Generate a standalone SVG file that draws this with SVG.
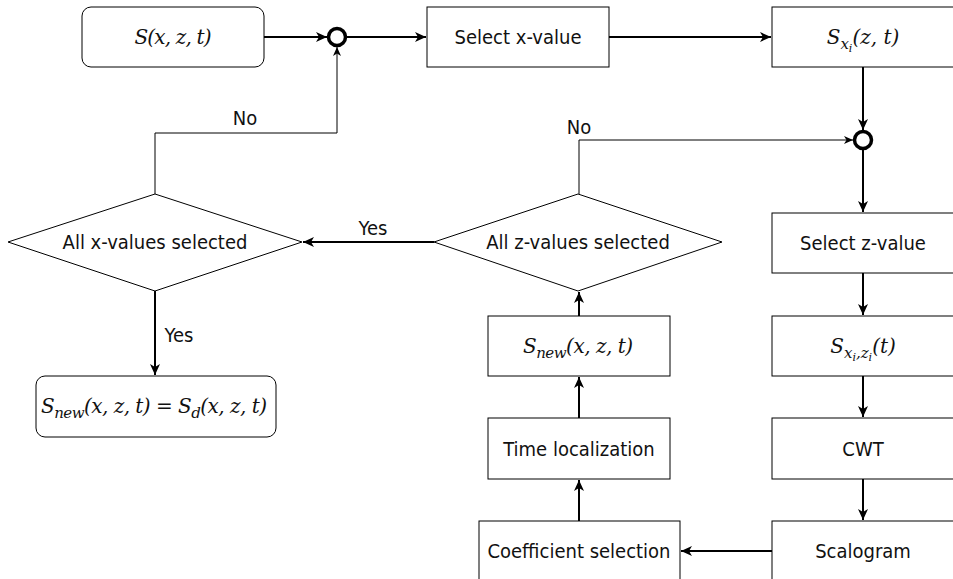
<svg xmlns="http://www.w3.org/2000/svg" width="953" height="579" viewBox="0 0 953 579">
<style>
.box{fill:#fff;stroke:#000;stroke-width:1}
.t{font-family:"DejaVu Sans Condensed","DejaVu Sans",Verdana,sans-serif;font-stretch:condensed;font-size:20px;fill:#111;text-anchor:middle}
.m{font-family:"DejaVu Serif","Liberation Serif",serif;font-style:italic;font-size:20px;fill:#111;text-anchor:middle}
.thick{fill:none;stroke:#000;stroke-width:2}
.thin{fill:none;stroke:#000;stroke-width:1}
.junc{fill:#fff;stroke:#000;stroke-width:3.5}
</style>
<defs>
<marker id="ah" markerUnits="userSpaceOnUse" markerWidth="12" markerHeight="10" refX="11" refY="5" orient="auto">
<path d="M0,0 L11,5 L0,10 L3,5 Z" fill="#000"/>
</marker>
<marker id="ahs" markerUnits="userSpaceOnUse" markerWidth="10" markerHeight="8" refX="9" refY="4" orient="auto">
<path d="M0,0 L9,4 L0,8 L2.5,4 Z" fill="#000"/>
</marker>
</defs>
<rect width="953" height="579" fill="#fff"/>

<g id="connectors">
<path class="thick" d="M264,37 L327,37" marker-end="url(#ah)"/>
<path class="thick" d="M347,37 L426,37" marker-end="url(#ah)"/>
<path class="thick" d="M609,37 L771,37" marker-end="url(#ah)"/>
<path class="thick" d="M863,67 L863,130" marker-end="url(#ah)"/>
<path class="thick" d="M863,150 L863,212" marker-end="url(#ah)"/>
<path class="thick" d="M863,273 L863,315" marker-end="url(#ah)"/>
<path class="thick" d="M863,376 L863,417" marker-end="url(#ah)"/>
<path class="thick" d="M863,479 L863,520" marker-end="url(#ah)"/>
<path class="thick" d="M772,551 L681,551" marker-end="url(#ah)"/>
<path class="thick" d="M579,521 L579,480" marker-end="url(#ah)"/>
<path class="thick" d="M579,418 L579,377" marker-end="url(#ah)"/>
<path class="thick" d="M579,316 L579,292" marker-end="url(#ah)"/>
<path class="thick" d="M434,242 L303,242" marker-end="url(#ah)"/>
<path class="thin" d="M579,194 L579,140 L853,140" marker-end="url(#ahs)"/>
<path class="thin" d="M155,194 L155,133 L337,133 L337,47" marker-end="url(#ahs)"/>
<path class="thick" d="M155,291 L155,375" marker-end="url(#ah)"/>
<text class="t" x="245" y="125">No</text>
<text class="t" x="579" y="134">No</text>
<text class="t" x="373" y="235">Yes</text>
<text class="t" x="179" y="342">Yes</text>
</g>

<g id="start">
<rect class="box" x="82" y="7" width="182" height="60" rx="9"/>
<text class="m" x="173" y="44" textLength="77" lengthAdjust="spacing">S(x, z, t)</text>
</g>

<g id="junction1">
<circle class="junc" cx="337" cy="37" r="8.5"/>
</g>

<g id="select-x">
<rect class="box" x="427" y="7" width="182" height="60"/>
<text class="t" x="518" y="44">Select x-value</text>
</g>

<g id="sxi">
<rect class="box" x="772" y="7" width="182" height="60"/>
<text class="m" x="863" y="44">S<tspan font-size="15" dy="5">x</tspan><tspan font-size="11" dy="3">i</tspan><tspan dy="-8">(z, t)</tspan></text>
</g>

<g id="junction2">
<circle class="junc" cx="863" cy="140" r="8.5"/>
</g>

<g id="select-z">
<rect class="box" x="772" y="213" width="182" height="60"/>
<text class="t" x="863" y="250">Select z-value</text>
</g>

<g id="sxizi">
<rect class="box" x="772" y="316" width="182" height="60"/>
<text class="m" x="863" y="353">S<tspan font-size="15" dy="5">x</tspan><tspan font-size="11" dy="3">i</tspan><tspan font-size="15" dy="-3">,z</tspan><tspan font-size="11" dy="3">i</tspan><tspan dy="-8">(t)</tspan></text>
</g>

<g id="cwt">
<rect class="box" x="772" y="418" width="182" height="61"/>
<text class="t" x="863" y="456">CWT</text>
</g>

<g id="scalogram">
<rect class="box" x="772" y="521" width="182" height="62"/>
<text class="t" x="863" y="558">Scalogram</text>
</g>

<g id="coef">
<rect class="box" x="479" y="521" width="201" height="62"/>
<text class="t" x="579" y="558">Coefficient selection</text>
</g>

<g id="timeloc">
<rect class="box" x="488" y="418" width="182" height="61"/>
<text class="t" x="579" y="456">Time localization</text>
</g>

<g id="snew">
<rect class="box" x="488" y="316" width="182" height="60"/>
<text class="m" x="578" y="353" textLength="110" lengthAdjust="spacing">S<tspan font-size="15" dy="5">new</tspan><tspan dy="-5">(x, z, t)</tspan></text>
</g>

<g id="z-decision">
<polygon class="box" points="434,242 578,194 722,242 578,291"/>
<text class="t" x="578" y="249">All z-values selected</text>
</g>

<g id="x-decision">
<polygon class="box" points="8,242 155,194 302,242 155,291"/>
<text class="t" x="155" y="249">All x-values selected</text>
</g>

<g id="end">
<rect class="box" x="36" y="376" width="240" height="61" rx="9"/>
<text class="m" x="154" y="413" textLength="226" lengthAdjust="spacing">S<tspan font-size="15" dy="5">new</tspan><tspan dy="-5">(x, z, t) = S</tspan><tspan font-size="15" dy="5">d</tspan><tspan dy="-5">(x, z, t)</tspan></text>
</g>
</svg>
